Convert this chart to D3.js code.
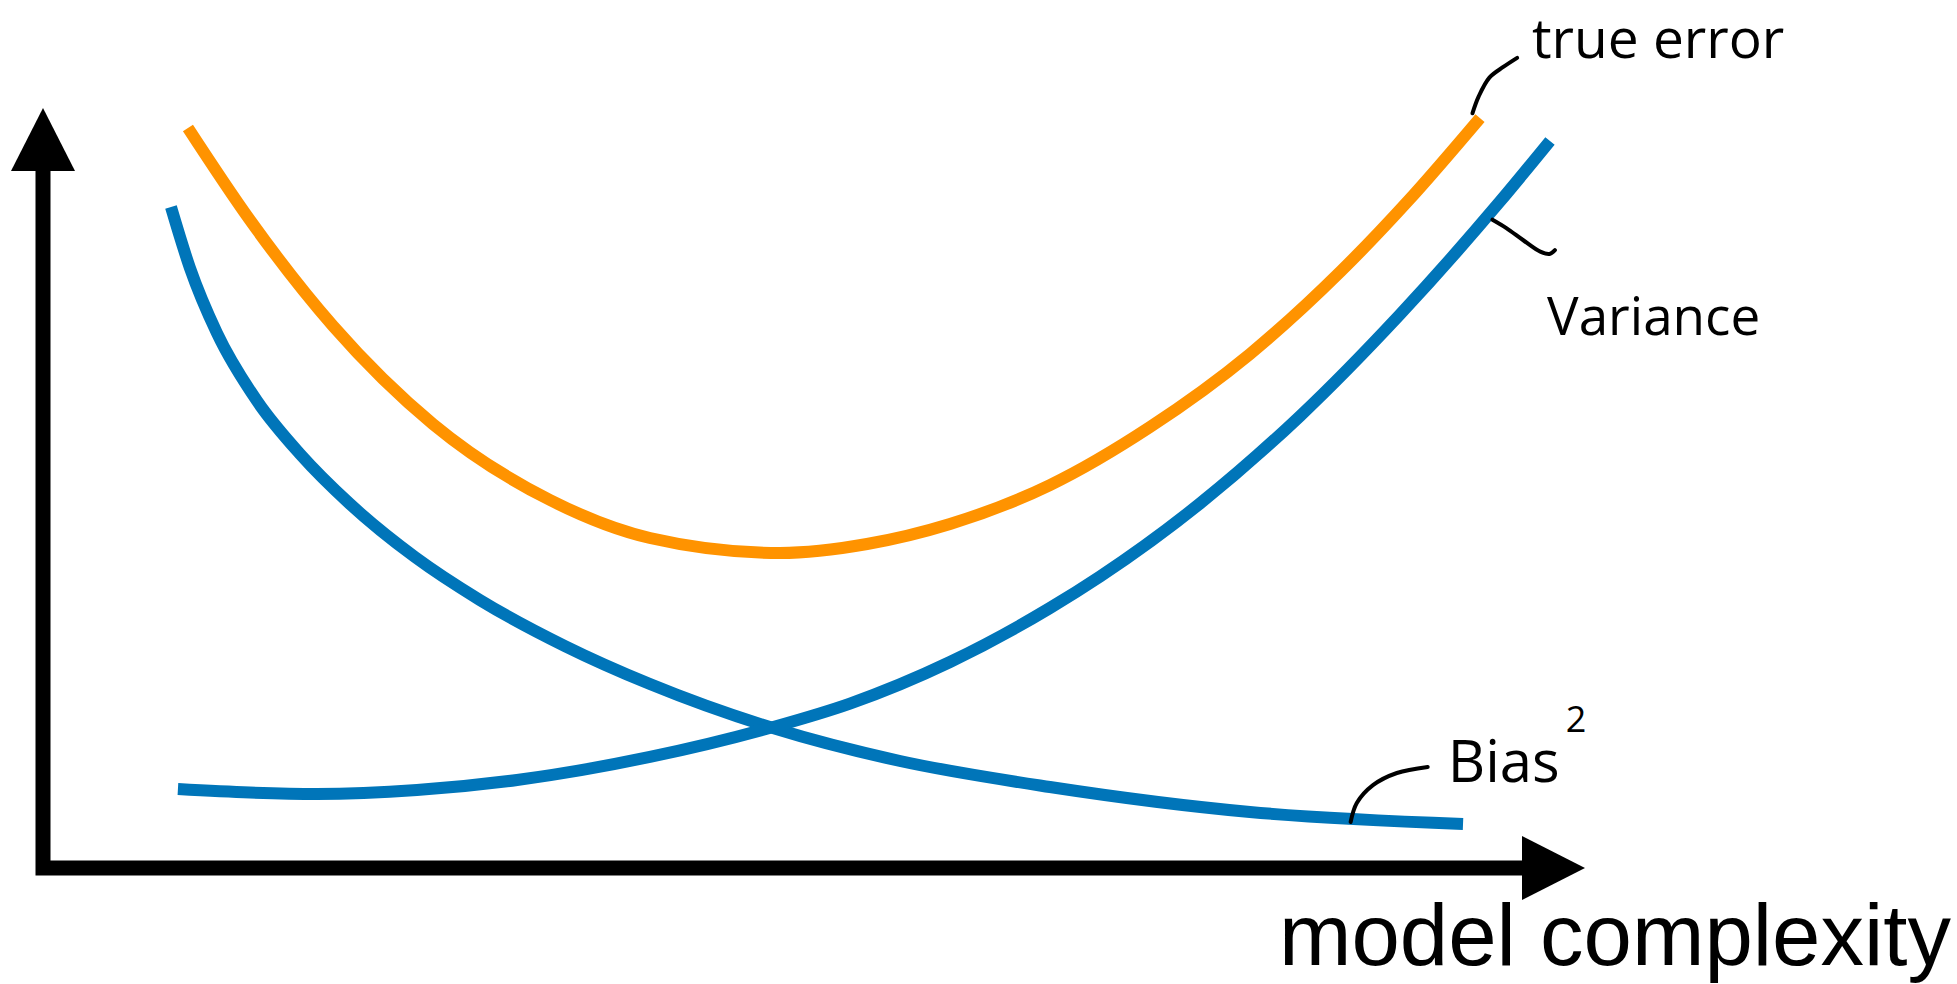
<!DOCTYPE html>
<html>
<head>
<meta charset="utf-8">
<script src="https://cdn.jsdelivr.net/npm/d3@7"></script>
<style>
  html, body { margin: 0; padding: 0; background: #ffffff; }
  svg { display: block; }
</style>
</head>
<body>
<svg id="chart"></svg>
<script>
// curves, in [model complexity, error] units (0..100 each axis)
const trueError = [
  [9.40, 97.37], [13.42, 85.26], [18.81, 71.32], [25.29, 58.42], [32.88, 48.42],
  [39.36, 43.42], [47.80, 41.45], [53.44, 42.63], [58.82, 45.26], [65.30, 50.39],
  [71.79, 58.03], [78.27, 67.63], [84.18, 78.55], [88.52, 87.76], [93.19, 98.68]
];
const variance = [
  [8.75, 10.39], [13.42, 9.93], [17.77, 9.74], [24.25, 10.26], [30.74, 11.58],
  [39.36, 14.61], [47.34, 18.55], [52.33, 21.64], [58.82, 27.11], [65.30, 34.21],
  [68.55, 38.36], [75.03, 47.96], [81.52, 59.47], [88.00, 72.83], [94.49, 87.70],
  [97.73, 95.66]
];
const biasSq = [
  [8.30, 86.97], [9.53, 78.95], [11.28, 70.39], [13.88, 61.45], [16.67, 54.47],
  [19.91, 47.89], [24.12, 40.92], [28.34, 35.26], [33.85, 29.21], [39.36, 24.21],
  [47.34, 18.42], [55.58, 14.08], [65.30, 10.66], [78.27, 7.37], [92.09, 5.79]
];

// hand-drawn leader strokes from labels to curves
const trueErrorLeader = [[92.7, 99.3], [93.1, 101.5], [93.8, 104.0], [94.7, 105.4], [95.6, 106.6]];
const varianceLeader = [[94.0, 85.3], [94.9, 84.2], [96.0, 82.6], [97.1, 81.1], [97.7, 80.8], [98.05, 81.3]];
const biasLeader = [[84.8, 6.05], [85.2, 8.55], [86.25, 10.9], [87.8, 12.5], [89.8, 13.3]];

const labels = [
  { text: "true error", at: [96.56, 106.6], size: 55 },
  { text: "Variance", at: [97.54, 70.1], size: 53 }
];
const biasLabel = { text: "Bias", sup: "2", at: [91.1, 11.3] };
const xLabel = "model complexity";

const width = 1957;
const height = 984;
const orange = "#ff9300";
const blue = "#0075b9";

const svg = d3.select("#chart")
  .attr("width", width)
  .attr("height", height);

const x = d3.scaleLinear().domain([0, 100]).range([43, 1585]);
const y = d3.scaleLinear().domain([0, 100]).range([868, 108]);

const axisW = 15;
const headLen = 63;
const headHalf = 32;

// axes: one L-shaped stroke plus two arrowheads
const [x0, x1] = x.range();
const [y0, y1] = y.range();

svg.append("path")
  .attr("d", `M${x0},${y1 + headLen} L${x0},${y0} L${x1 - headLen},${y0}`)
  .attr("fill", "none")
  .attr("stroke", "#000")
  .attr("stroke-width", axisW)
  .attr("stroke-linejoin", "miter")
  .attr("stroke-linecap", "square");

svg.append("path")
  .attr("d", `M${x0},${y1} L${x0 + headHalf},${y1 + headLen} L${x0 - headHalf},${y1 + headLen} Z`)
  .attr("fill", "#000");

svg.append("path")
  .attr("d", `M${x1},${y0} L${x1 - headLen},${y0 - headHalf} L${x1 - headLen},${y0 + headHalf} Z`)
  .attr("fill", "#000");

svg.append("text")
  .attr("x", 1951)
  .attr("y", 965)
  .attr("text-anchor", "end")
  .attr("font-family", "'Liberation Sans', Arial, sans-serif")
  .attr("font-size", 87)
  .attr("fill", "#000")
  .text(xLabel);

// curves (monotone in x, so uneven sampling does not wobble)
const line = d3.line()
  .x(d => x(d[0]))
  .y(d => y(d[1]))
  .curve(d3.curveMonotoneX);

[[biasSq, blue], [variance, blue], [trueError, orange]].forEach(([data, color]) => {
  svg.append("path")
    .datum(data)
    .attr("fill", "none")
    .attr("stroke", color)
    .attr("stroke-width", 12)
    .attr("stroke-linecap", "butt")
    .attr("d", line);
});

// annotations
const leader = d3.line()
  .x(d => x(d[0]))
  .y(d => y(d[1]))
  .curve(d3.curveCatmullRom.alpha(0.5));

[trueErrorLeader, varianceLeader, biasLeader].forEach(data => {
  svg.append("path")
    .datum(data)
    .attr("fill", "none")
    .attr("stroke", "#000")
    .attr("stroke-width", 4)
    .attr("stroke-linecap", "round")
    .attr("d", leader);
});

const handFont = "'Open Sans', 'DejaVu Sans', sans-serif";

labels.forEach(l => {
  svg.append("text")
    .attr("x", x(l.at[0]))
    .attr("y", y(l.at[1]))
    .attr("font-family", handFont)
    .attr("font-size", l.size)
    .attr("fill", "#000")
    .text(l.text);
});

const bias = svg.append("text")
  .attr("x", x(biasLabel.at[0]))
  .attr("y", y(biasLabel.at[1]))
  .attr("font-family", handFont)
  .attr("font-size", 58)
  .attr("fill", "#000");

bias.append("tspan").text(biasLabel.text);
bias.append("tspan")
  .attr("dx", 6)
  .attr("dy", -50)
  .attr("font-size", 36)
  .text(biasLabel.sup);
</script>
</body>
</html>
